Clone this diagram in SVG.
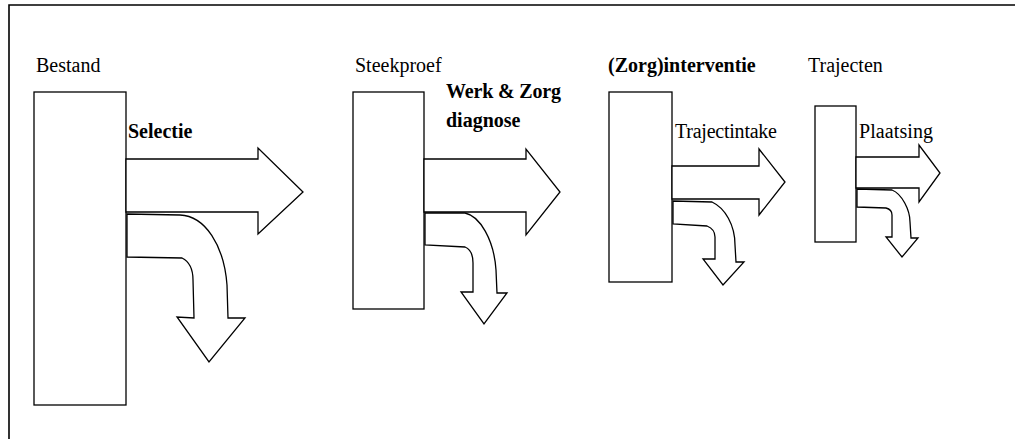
<svg xmlns="http://www.w3.org/2000/svg" width="1015" height="439" viewBox="0 0 1015 439">
  <style>
    .frame { fill: none; stroke: #000; stroke-width: 1.6; }
    .box { fill: #fff; stroke: #000; stroke-width: 1.3; }
    .arrow { fill: #fff; stroke: #000; stroke-width: 1.3; stroke-linejoin: miter; }
    .lbl { font-size: 20px; fill: #000; }
    .b { font-weight: bold; }
  </style>
  <rect width="1015" height="439" fill="#fff"/>

  <!-- outer frame (top and left edges) -->
  <path class="frame" d="M9,439 L9,5 L1015,5"/>

  <g font-family="'Liberation Serif', 'Times New Roman', Times, 'DejaVu Serif', serif">
    <g id="node-bestand">
      <rect class="box" x="34" y="92" width="92" height="313"/>
      <text class="lbl" x="36" y="72">Bestand</text>
    </g>

    <g id="node-steekproef">
      <rect class="box" x="353" y="92" width="71" height="217"/>
      <text class="lbl" x="355" y="72">Steekproef</text>
    </g>

    <g id="node-interventie">
      <rect class="box" x="609" y="92" width="63" height="190"/>
      <text class="lbl b" x="608" y="72">(Zorg)interventie</text>
    </g>

    <g id="node-trajecten">
      <rect class="box" x="815" y="106" width="41" height="136"/>
      <text class="lbl" x="808" y="72">Trajecten</text>
    </g>

    <g id="connectors">
      <!-- Bestand: forward and drop-out arrows -->
      <polygon class="arrow" points="126,159 258,159 258,148 303,192 258,234 258,212 126,212"/>
      <path class="arrow" d="M127,214 L180,215 C205,216 224,245 227,285 L228,318 L245,318 L209,362 L177,317 L194,318 L193,280 C193,270 190,262 182,258 L127,257 Z"/>
      <text class="lbl b" x="128" y="138">Selectie</text>

      <!-- Steekproef -->
      <polygon class="arrow" points="424,159 526,159 526,149 560,192 526,235 526,212 424,212"/>
      <path class="arrow" d="M425,213 L465,213 C480,216 494,240 496,270 L497,293 L507,293 L484,324 L461,292 L473,292 L473,263 C473,255 470,249 465,247 L425,245 Z"/>
      <text class="lbl b" x="446" y="98" textLength="115">Werk &amp; Zorg</text>
      <text class="lbl b" x="446" y="127">diagnose</text>

      <!-- (Zorg)interventie -->
      <polygon class="arrow" points="672,166 759,166 759,149 785,182 759,215 759,199 672,199"/>
      <path class="arrow" d="M673,201 L712,202 C725,208 735,225 735,245 L736,262 L744,262 L723,285 L703,259 L715,259 L715,237 C715,232 712,228 707,226 L673,224 Z"/>
      <text class="lbl" x="675" y="138" textLength="102">Trajectintake</text>

      <!-- Trajecten -->
      <polygon class="arrow" points="856,157 919,157 919,145 940,173 919,202 919,188 856,188"/>
      <path class="arrow" d="M857,189 L892,190 C902,194 910,210 910,222 L911,238 L918,238 L902,257 L886,237 L892,237 L892,215 C892,212 890,209 886,208 L857,207 Z"/>
      <text class="lbl" x="859" y="138" textLength="74">Plaatsing</text>
    </g>
  </g>
</svg>
